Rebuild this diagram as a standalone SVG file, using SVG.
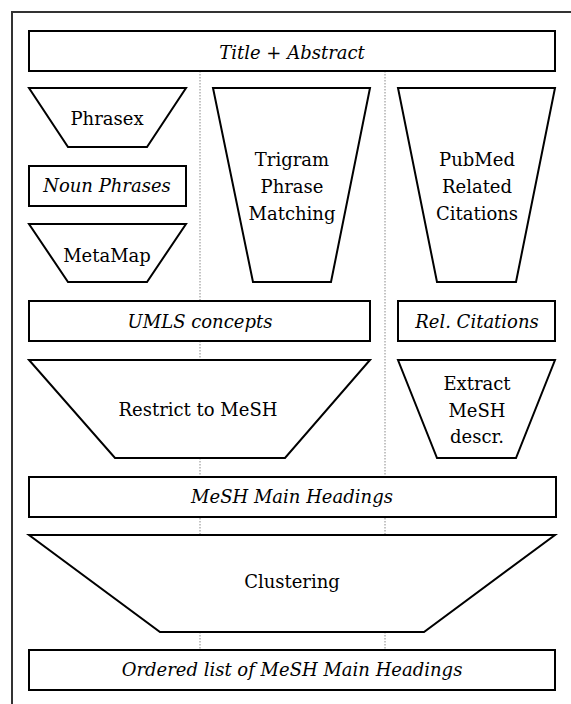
<svg xmlns="http://www.w3.org/2000/svg" width="571" height="704" viewBox="0 0 571 704">
<style>
.shape{fill:#fff;stroke:#000;stroke-width:2;stroke-linejoin:miter}
.t{font-family:'DejaVu Serif',serif;font-size:18px;fill:#000;text-anchor:middle}
.i{font-style:italic}
.div{stroke:#888;stroke-width:1;stroke-dasharray:1.5,1.5;fill:none}
.frame{fill:none;stroke:#333;stroke-width:2}
</style>
<rect x="0" y="0" width="571" height="704" fill="#fff"/>
<path class="frame" d="M12,704 V12 H571"/>
<g id="dividers">
<line class="div" x1="200" y1="71" x2="200" y2="650"/>
<line class="div" x1="385" y1="71" x2="385" y2="650"/>
</g>
<g id="title">
<rect class="shape" x="29" y="31" width="526" height="40"/>
<text class="t i" x="292" y="59">Title + Abstract</text>
</g>
<g id="phrasex">
<polygon class="shape" points="29,88 186,88 147,147 68,147"/>
<text class="t" x="107" y="125">Phrasex</text>
</g>
<g id="noun-phrases">
<rect class="shape" x="29" y="166" width="157" height="40"/>
<text class="t i" x="107" y="192">Noun Phrases</text>
</g>
<g id="metamap">
<polygon class="shape" points="29,224 186,224 147,282 68,282"/>
<text class="t" x="107" y="262">MetaMap</text>
</g>
<g id="trigram">
<polygon class="shape" points="213,88 370,88 331,282 253,282"/>
<text class="t" x="292" y="166">Trigram</text>
<text class="t" x="292" y="193">Phrase</text>
<text class="t" x="292" y="220">Matching</text>
</g>
<g id="pubmed">
<polygon class="shape" points="398,88 555,88 516,282 437,282"/>
<text class="t" x="477" y="166">PubMed</text>
<text class="t" x="477" y="193">Related</text>
<text class="t" x="477" y="220">Citations</text>
</g>
<g id="umls">
<rect class="shape" x="29" y="301" width="341" height="40"/>
<text class="t i" x="200" y="328">UMLS concepts</text>
</g>
<g id="rel-citations">
<rect class="shape" x="398" y="301" width="157" height="40"/>
<text class="t i" x="477" y="328">Rel. Citations</text>
</g>
<g id="restrict">
<polygon class="shape" points="29,360 370,360 285,458 115,458"/>
<text class="t" x="198" y="416">Restrict to MeSH</text>
</g>
<g id="extract">
<polygon class="shape" points="398,360 555,360 516,458 437,458"/>
<text class="t" x="477" y="390">Extract</text>
<text class="t" x="477" y="417">MeSH</text>
<text class="t" x="477" y="443">descr.</text>
</g>
<g id="mesh-main">
<rect class="shape" x="29" y="477" width="527" height="40"/>
<text class="t i" x="292" y="503">MeSH Main Headings</text>
</g>
<g id="clustering">
<polygon class="shape" points="29,535 555,535 424,632 160,632"/>
<text class="t" x="292" y="588">Clustering</text>
</g>
<g id="ordered">
<rect class="shape" x="29" y="650" width="526" height="40"/>
<text class="t i" x="292" y="676">Ordered list of MeSH Main Headings</text>
</g>
</svg>
